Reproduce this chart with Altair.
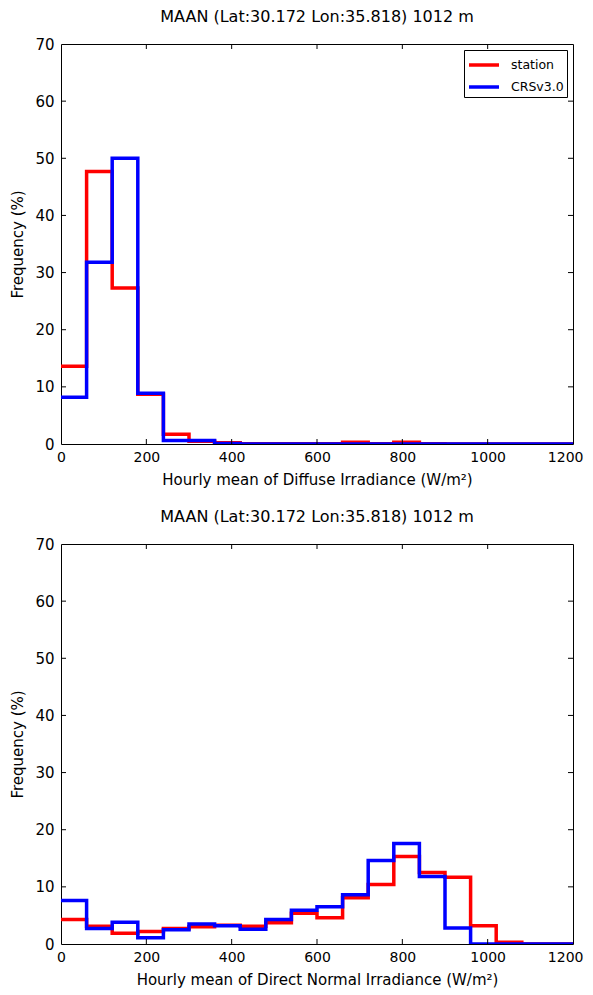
import altair as alt
import pandas as pd

# ---- data ----
bin_edges = list(range(0, 1260, 60))  # 0..1200, 21 edges
series_names = ["station", "CRSv3.0"]
series_colors = ["#ff0000", "#0000ff"]

diffuse_station = [13.6, 47.7, 27.3, 8.7, 1.7, 0.5, 0.2, 0.05, 0.05, 0.05,
                   0.05, 0.3, 0.05, 0.3, 0.05, 0.0, 0.0, 0.0, 0.0, 0.0]
diffuse_crs = [8.2, 31.8, 50.0, 8.9, 0.6, 0.6, 0.1, 0.0, 0.0, 0.0,
               0.0, 0.0, 0.0, 0.0, 0.0, 0.0, 0.0, 0.0, 0.0, 0.0]

direct_station = [4.3, 3.1, 1.9, 2.2, 2.7, 3.0, 3.3, 3.1, 3.7, 5.4,
                  4.6, 8.1, 10.4, 15.3, 12.5, 11.7, 3.2, 0.3, 0.0, 0.0]
direct_crs = [7.6, 2.7, 3.8, 1.1, 2.5, 3.5, 3.2, 2.6, 4.3, 5.9,
              6.5, 8.6, 14.6, 17.6, 11.8, 2.8, 0.0, 0.0, 0.0, 0.0]

x_ticks = [0, 200, 400, 600, 800, 1000, 1200]
y_ticks = [0, 10, 20, 30, 40, 50, 60, 70]

title_text = "MAAN (Lat:30.172 Lon:35.818) 1012 m"
xtitle_top = "Hourly mean of Diffuse Irradiance (W/m²)"
xtitle_bottom = "Hourly mean of Direct Normal Irradiance (W/m²)"
ytitle = "Frequency (%)"

W, H = 512, 400
FONT = "DejaVu Sans"
TICK = 5


def step_df(values, name):
    vals = list(values) + [values[-1]]
    return pd.DataFrame({"edge": bin_edges, "freq": vals, "series": name,
                         "order": list(range(len(bin_edges)))})


xscale = alt.Scale(domain=[0, 1200], nice=False, zero=False)
yscale = alt.Scale(domain=[0, 70], nice=False)
cscale = alt.Scale(domain=series_names, range=series_colors)

last_x = "datum.value >= %d" % x_ticks[-1]


def panel(st, crs, xtitle):
    xaxis = alt.Axis(values=x_ticks, ticks=False, grid=False, labelPadding=6,
                     labelFlush=False, format="d", title=xtitle,
                     titlePadding=8, domain=False, labelFontSize=14,
                     labelAlign={"condition": {"test": last_x, "value": "right"},
                                 "value": "center"},
                     labelOffset={"condition": {"test": last_x, "value": 10},
                                  "value": 0})
    yaxis = alt.Axis(values=y_ticks, ticks=False, grid=False, labelPadding=7,
                     labelFlush=False, format="d", title=ytitle,
                     titlePadding=9, domain=False)
    legend = alt.Legend(title=None, orient="top-right", offset=6,
                        strokeColor="black", fillColor="white", padding=3,
                        cornerRadius=0, symbolType="M-1,0H2", symbolSize=400,
                        symbolStrokeWidth=3.5, labelFontSize=12.5, labelFont=FONT,
                        labelColor="black", rowPadding=3, labelOffset=20)
    layers = []
    for vals, name in [(st, "station"), (crs, "CRSv3.0")]:
        layers.append(
            alt.Chart(step_df(vals, name)).mark_line(
                interpolate="step-after", strokeWidth=3.5, clip=True
            ).encode(
                x=alt.X("edge:Q", scale=xscale, axis=xaxis),
                y=alt.Y("freq:Q", scale=yscale, axis=yaxis),
                color=alt.Color("series:N", scale=cscale, legend=legend),
                order="order:Q",
            )
        )
    ydf = pd.DataFrame({"v": y_ticks[1:-1]})
    xdf = pd.DataFrame({"v": x_ticks[1:-1]})
    tl = alt.Chart(ydf).mark_rule(color="black", strokeWidth=1).encode(
        y=alt.Y("v:Q", scale=yscale), x=alt.value(0), x2=alt.value(TICK))
    tr = alt.Chart(ydf).mark_rule(color="black", strokeWidth=1).encode(
        y=alt.Y("v:Q", scale=yscale), x=alt.value(W - TICK), x2=alt.value(W))
    tb = alt.Chart(xdf).mark_rule(color="black", strokeWidth=1).encode(
        x=alt.X("v:Q", scale=xscale), y=alt.value(H), y2=alt.value(H - TICK))
    tt = alt.Chart(xdf).mark_rule(color="black", strokeWidth=1).encode(
        x=alt.X("v:Q", scale=xscale), y=alt.value(0), y2=alt.value(TICK))
    return alt.layer(*layers, tl, tr, tb, tt).properties(
        width=W, height=H,
        title=alt.TitleParams(title_text, fontSize=16, font=FONT,
                              fontWeight="normal", color="black", offset=12,
                              anchor="middle"),
    )


top = panel(diffuse_station, diffuse_crs, xtitle_top)
bottom = panel(direct_station, direct_crs, xtitle_bottom)

chart = alt.vconcat(top, bottom, spacing=20).properties(
    padding={"left": 2, "top": 0, "right": 0, "bottom": 0}
).configure_view(
    stroke="black", strokeWidth=1
).configure_axis(
    labelFont=FONT, titleFont=FONT, labelFontSize=15, titleFontSize=15,
    labelColor="black", titleColor="black", titleFontWeight="normal"
)

chart.save("out.html", embed_options={"renderer": "svg", "actions": False})
